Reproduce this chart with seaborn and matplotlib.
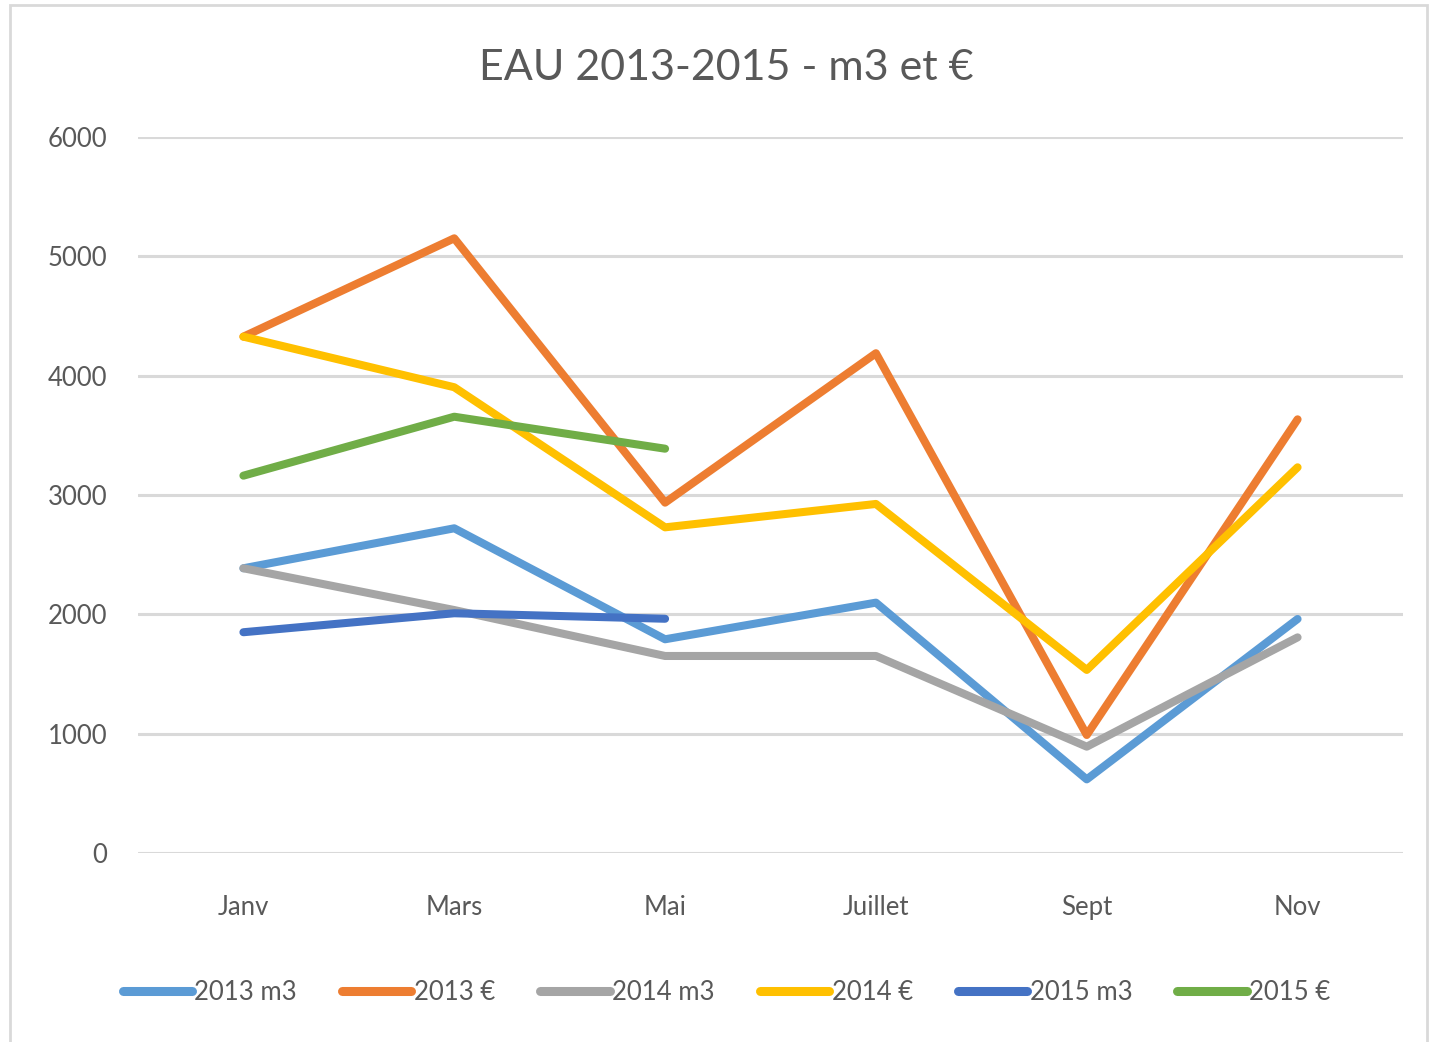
import pandas as pd
import matplotlib
matplotlib.use("Agg")
import matplotlib.pyplot as plt
import seaborn as sns
from matplotlib.patches import Rectangle

# mois (tous les deux mois)
mois = ["Janv", "Mars", "Mai", "Juillet", "Sept", "Nov"]

# valeurs
eau_2013_m3 = [2386, 2721, 1791, 2098, 617, 1961]
eau_2013_eur = [4327, 5151, 2936, 4188, 989, 3634]
eau_2014_m3 = [2386, 2036, 1651, 1651, 891, 1807]
eau_2014_eur = [4327, 3903, 2729, 2925, 1534, 3232]
eau_2015_m3 = [1850, 2009, 1963]
eau_2015_eur = [3162, 3656, 3388]

series = {
    "2013 m3": eau_2013_m3,
    "2013 €": eau_2013_eur,
    "2014 m3": eau_2014_m3,
    "2014 €": eau_2014_eur,
    "2015 m3": eau_2015_m3,
    "2015 €": eau_2015_eur,
}
couleurs = ["#5B9BD5", "#ED7D31", "#A5A5A5", "#FFC000", "#4472C4", "#70AD47"]

rows = []
for nom, vals in series.items():
    for m, v in zip(mois, vals):
        rows.append({"mois": m, "valeur": v, "serie": nom})
df = pd.DataFrame(rows)

sns.set_style("white")
plt.rcParams["font.family"] = ["Lato", "DejaVu Sans"]

fig = plt.figure(figsize=(14.3, 10.42), dpi=100)
ax = fig.add_axes([138 / 1430, 1 - 853 / 1042, (1403 - 138) / 1430, (853 - 137) / 1042])

# cadre gris autour du graphique
fig.patches.append(Rectangle((10 / 1430, -0.01), (1427 - 10) / 1430, 1 - 5 / 1042 + 0.01,
                             transform=fig.transFigure, fill=False,
                             edgecolor="#D9D9D9", linewidth=2))

ax.set_xlim(-0.5, 5.5)
sns.lineplot(data=df, x="mois", y="valeur", hue="serie", palette=couleurs,
             linewidth=5.8, sort=False, ax=ax, solid_capstyle="round", zorder=3)
ax.set_xlim(-0.5, 5.5)
ax.set_ylim(0, 6000)
ax.set_yticks(range(0, 7000, 1000))
ax.yaxis.grid(True, color="#D9D9D9", linewidth=2.2)
ax.set_axisbelow(True)
for s in ax.spines.values():
    s.set_visible(False)
ax.tick_params(axis="both", length=0, labelsize=18.5, labelcolor="#595959")
ax.tick_params(axis="x", pad=30)
ax.tick_params(axis="y", pad=22)
ax.set_xlabel("")
ax.set_ylabel("")

fig.text(0.508, 1 - 68 / 1042, "EAU 2013-2015 - m3 et €", ha="center", va="center",
         fontsize=31, color="#595959")

ax.legend_.remove()
handles, labels = ax.get_legend_handles_labels()
leg = fig.legend(handles, labels, loc="center", bbox_to_anchor=(0.508, 1 - 992 / 1042),
                 ncol=6, frameon=False, fontsize=18.5, handlelength=2.7,
                 handletextpad=0.1, columnspacing=1.75, labelcolor="#595959")
for line in leg.get_lines():
    line.set_solid_capstyle("round")
    line.set_linewidth(6.5)

fig.savefig("out.png", dpi=100)
